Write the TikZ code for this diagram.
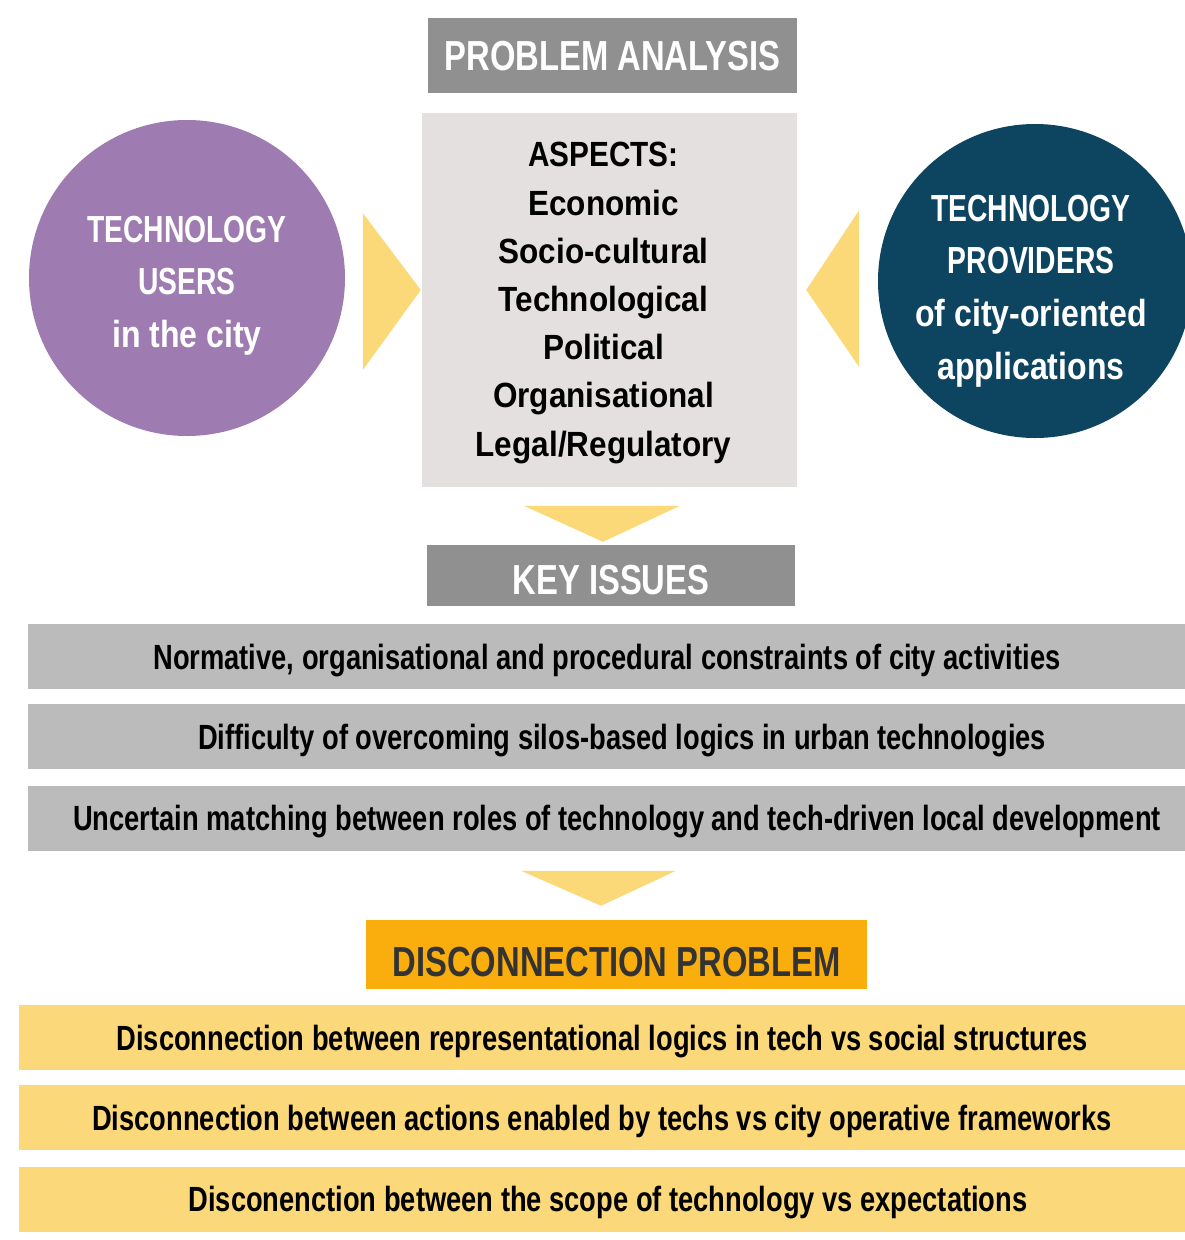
\documentclass[tikz,border=0pt]{standalone}
\usepackage{fontspec}
\setmainfont{Liberation Sans}
\newfontfamily\headfont{Liberation Sans}[FakeStretch=0.78]
\newfontfamily\capfont{Liberation Sans}[FakeStretch=0.75]
\newfontfamily\bodyfont{Liberation Sans}[FakeStretch=0.85]
\newfontfamily\listfont{Liberation Sans}[FakeStretch=0.9]
\usepackage{xcolor}
\definecolor{colorHead}{HTML}{909090}
\definecolor{colorAspect}{HTML}{E3E0DF}
\definecolor{colorUsers}{HTML}{9E7BB0}
\definecolor{colorProviders}{HTML}{0D4460}
\definecolor{colorArrow}{HTML}{FBD978}
\definecolor{colorIssue}{HTML}{BBBBBB}
\definecolor{colorGap}{HTML}{FBD97A}
\definecolor{colorCore}{HTML}{F9AE0E}
\definecolor{colorCoreText}{HTML}{333333}
\usetikzlibrary{positioning, calc}
\tikzset{
  headbox/.style={fill=colorHead, text=white, inner sep=0pt, text height=30pt, text depth=0pt,
    font=\headfont\bfseries\fontsize{42}{42}\selectfont},
  roundbox/.style={circle, inner sep=0pt, minimum size=316pt},
  roundtext/.style={inner sep=0pt, text=white, align=center, font=\bfseries\fontsize{37.7}{52.6}\selectfont},
  issuebar/.style={fill=colorIssue, inner sep=0pt, minimum width=1158pt, minimum height=65pt,
    text height=25pt, text depth=0pt, font=\headfont\bfseries\fontsize{35}{35}\selectfont},
  gapbar/.style={issuebar, fill=colorGap, minimum width=1166pt},
}

\begin{document}
\begin{tikzpicture}[x=1pt, y=-1pt]
\useasboundingbox (0,0) rectangle (1185,1240);
\clip (0,0) rectangle (1185,1240);
% problem analysis
\node[headbox, minimum width=369pt, minimum height=75pt] (analysis) at (612.5,55.5) {PROBLEM ANALYSIS};
\node[fill=colorAspect, inner sep=0pt, minimum width=375pt, minimum height=374pt] (aspects) at (609.5,300) {};
\node[inner sep=0pt, align=center, font=\listfont\bfseries\fontsize{35}{48.2}\selectfont] (aspectlist)
  at ($(aspects.center)+(-6,3)$)
  {{\bodyfont ASPECTS:}\\Economic\\Socio-cultural\\Technological\\Political\\Organisational\\Legal/Regulatory};
\node[roundbox, fill=colorUsers] (users) at (187,278) {};
\node[roundtext] (userstext) at ($(users.center)+(0,7.5)$)
  {{\capfont TECHNOLOGY}\\{\capfont USERS}\\{\bodyfont in the city}};
\node[roundbox, fill=colorProviders, minimum size=314pt] (providers) at (1035,281) {};
\node[roundtext] (providerstext) at ($(providers.center)+(-4,10)$)
  {{\capfont TECHNOLOGY}\\{\capfont PROVIDERS}\\{\bodyfont of city-oriented}\\{\bodyfont applications}};
\fill[colorArrow] ($(aspects.west)+(-59,-87)$) -- ($(aspects.west)+(-59,70)$) -- ($(aspects.west)+(-1,-10)$) -- cycle;
\fill[colorArrow] ($(aspects.east)+(62,-90)$) -- ($(aspects.east)+(62,67)$) -- ($(aspects.east)+(9,-10)$) -- cycle;
% key issues
\node[headbox, text height=38pt, minimum width=368pt, minimum height=61pt] (keyissues) at (611,575.5) {KEY ISSUES};
\fill[colorArrow] ($(keyissues.north)+(-87,-39)$) -- ($(keyissues.north)+(69,-39)$) -- ($(keyissues.north)+(-8,-3)$) -- cycle;
\node[issuebar] (issue1) at (607,656.5) {Normative, organisational and procedural constraints of city activities};
\node[issuebar, below=15pt of issue1] (issue2) {\hspace*{30pt}Difficulty of overcoming silos-based logics in urban technologies};
\node[issuebar, below=16pt of issue2] (issue3) {\hspace*{20pt}Uncertain matching between roles of technology and tech-driven local development};
% disconnection problem
\node[headbox, fill=colorCore, text=colorCoreText, text height=44pt, minimum width=501pt, minimum height=69pt] (core) at (616.5,954.5) {DISCONNECTION PROBLEM};
\fill[colorArrow] ($(core.north)+(-95.5,-49)$) -- ($(core.north)+(59.5,-49)$) -- ($(core.north)+(-15.5,-14)$) -- cycle;
\node[gapbar] (gap1) at (602,1037.5) {Disconnection between representational logics in tech vs social structures};
\node[gapbar, below=15pt of gap1] (gap2) {Disconnection between actions enabled by techs vs city operative frameworks};
\node[gapbar, below=16pt of gap2] (gap3) {\hspace*{12pt}Disconenction between the scope of technology vs expectations};
\end{tikzpicture}
\end{document}
